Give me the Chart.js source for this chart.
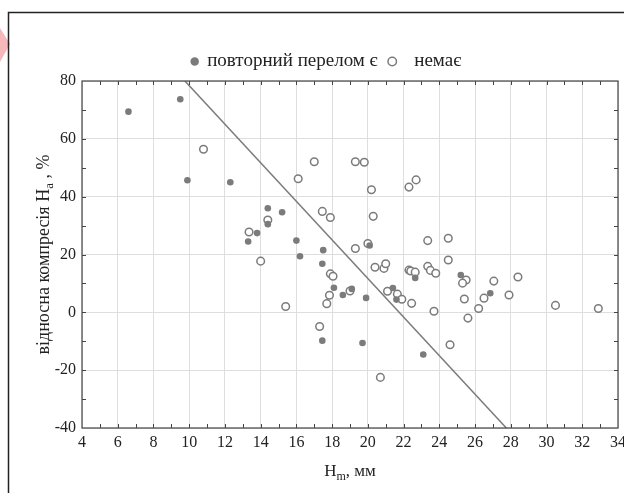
<!DOCTYPE html>
<html>
<head>
<meta charset="utf-8">
<script src="https://cdn.jsdelivr.net/npm/chart.js@4/dist/chart.umd.min.js"></script>
<style>
    html, body { margin: 0; padding: 0; background: #fff; }
    #wrap { width: 624px; height: 493px; position: relative; }
</style>
</head>
<body>
<div id="wrap"><canvas id="chart" width="624" height="493"></canvas></div>
<script>
// повторний перелом є (filled)
const fracX = [6.6, 9.5, 9.9, 12.3, 14.4, 14.4, 13.8, 13.3, 15.2, 16.0, 17.5, 16.2, 17.45,
    20.1, 22.65, 18.1, 18.6, 19.1, 19.9, 21.4, 21.6, 17.45, 19.7, 23.1, 25.2, 26.85];
const fracY = [69.4, 73.7, 45.7, 45.0, 36.0, 30.5, 27.4, 24.5, 34.6, 24.8, 21.5, 19.4, 16.8,
    23.1, 11.9, 8.5, 6.0, 8.1, 5.0, 8.4, 4.4, -9.8, -10.6, -14.6, 12.9, 6.6];

// немає (open)
const noneX = [10.8, 14.4, 13.35, 14.0, 17.0, 19.3, 19.8, 16.1, 20.2, 22.3, 22.7, 17.45, 17.9,
    20.3, 19.3, 20.0, 20.4, 20.9, 21.0, 22.3, 22.4, 22.65, 17.9, 18.05, 19.0, 17.85, 17.7,
    21.1, 21.65, 21.9, 22.45, 15.4, 17.3, 20.7, 23.35, 24.5, 24.5, 23.35, 23.5, 23.8, 25.5,
    25.3, 27.05, 28.4, 23.7, 25.4, 26.5, 27.9, 26.2, 25.6, 30.5, 32.9, 24.6];
const noneY = [56.4, 31.9, 27.8, 17.7, 52.1, 52.1, 51.9, 46.2, 42.4, 43.3, 45.8, 34.9, 32.8,
    33.2, 22.1, 23.8, 15.6, 15.2, 16.8, 14.6, 14.3, 13.9, 13.3, 12.5, 7.4, 5.9, 3.0,
    7.3, 6.3, 4.5, 3.1, 2.0, -4.9, -22.5, 24.8, 25.6, 18.1, 15.9, 14.5, 13.5, 11.2,
    10.1, 10.8, 12.2, 0.4, 4.6, 4.9, 6.0, 1.3, -2.0, 2.4, 1.3, -11.2];

// границя розділення
const lineX = [9.76, 27.75];
const lineY = [80, -40];

const seriesNames = ['повторний перелом є  ', '  немає'];
const xTitle = ['H', 'm', ', мм'];
const yTitle = ['відносна компресія H', 'a', ' , %'];

const GREY = '#7b7b7b';
const SERIF = '"Liberation Serif", "Times New Roman", serif';

/**
 * Склеює масиви x та y у точки
 * @param xs {number[]}
 * @param ys {number[]}
 * @return {object[]}
 */
function toPoints(xs, ys) {
    return xs.map((x, i) => ({x: x, y: ys[i]}));
}

/**
 * Пише текст з нижнім індексом, центр у (0, 0)
 */
function drawSubText(ctx, parts, size) {
    const big = size + 'px ' + SERIF;
    const small = Math.round(size * 0.7) + 'px ' + SERIF;
    ctx.font = big;
    const w0 = ctx.measureText(parts[0]).width;
    const w2 = ctx.measureText(parts[2]).width;
    ctx.font = small;
    const w1 = ctx.measureText(parts[1]).width;
    let x = -(w0 + w1 + w2) / 2;
    ctx.textBaseline = 'middle';
    ctx.textAlign = 'left';
    ctx.font = big;
    ctx.fillText(parts[0], x, 0);
    x += w0;
    ctx.font = small;
    ctx.fillText(parts[1], x, size * 0.3);
    x += w1;
    ctx.font = big;
    ctx.fillText(parts[2], x, 0);
}

const decor = {
    id: 'decor',
    beforeDraw(chart) {
        const ctx = chart.ctx;
        ctx.save();
        // рожевий куточок
        ctx.fillStyle = '#f5b9bb';
        ctx.beginPath();
        ctx.moveTo(0, 28);
        ctx.lineTo(10, 44);
        ctx.lineTo(0, 62);
        ctx.closePath();
        ctx.fill();
        // рамка рисунка
        ctx.strokeStyle = '#222';
        ctx.lineWidth = 1.5;
        ctx.beginPath();
        ctx.moveTo(8.5, 493);
        ctx.lineTo(8.5, 12.5);
        ctx.lineTo(624, 12.5);
        ctx.stroke();
        ctx.restore();
    },
    afterDraw(chart) {
        const ctx = chart.ctx;
        const a = chart.chartArea;
        const xs = chart.scales.x;
        const ys = chart.scales.y;
        ctx.save();
        ctx.strokeStyle = '#444';
        ctx.lineWidth = 1.2;
        ctx.strokeRect(a.left, a.top, a.right - a.left, a.bottom - a.top);
        ctx.lineWidth = 1;
        ctx.beginPath();
        for (let v = xs.min + 1; v < xs.max; v += 1) {
            const p = Math.round(xs.getPixelForValue(v)) + 0.5;
            ctx.moveTo(p, a.bottom); ctx.lineTo(p, a.bottom - 4);
            ctx.moveTo(p, a.top); ctx.lineTo(p, a.top + 4);
        }
        for (let v = ys.min + 10; v < ys.max; v += 10) {
            const p = Math.round(ys.getPixelForValue(v)) + 0.5;
            ctx.moveTo(a.left, p); ctx.lineTo(a.left + 4, p);
            ctx.moveTo(a.right, p); ctx.lineTo(a.right - 4, p);
        }
        ctx.stroke();

        ctx.fillStyle = '#222';
        ctx.translate((a.left + a.right) / 2, 472);
        drawSubText(ctx, xTitle, 17);
        ctx.setTransform(1, 0, 0, 1, 0, 0);
        ctx.translate(44, (a.top + a.bottom) / 2);
        ctx.rotate(-Math.PI / 2);
        drawSubText(ctx, yTitle, 18);
        ctx.restore();
    }
};

new Chart(document.getElementById('chart'), {
    type: 'scatter',
    data: {
        datasets: [
            {
                label: seriesNames[0],
                data: toPoints(fracX, fracY),
                backgroundColor: GREY,
                borderColor: GREY,
                borderWidth: 0,
                pointRadius: 3.3,
                pointHoverRadius: 3.3
            },
            {
                label: seriesNames[1],
                data: toPoints(noneX, noneY),
                backgroundColor: '#fff',
                borderColor: GREY,
                borderWidth: 1.5,
                pointRadius: 3.8,
                pointHoverRadius: 3.8
            },
            {
                type: 'line',
                label: 'line',
                data: toPoints(lineX, lineY),
                borderColor: GREY,
                borderWidth: 1.5,
                pointRadius: 0,
                fill: false
            }
        ]
    },
    options: {
        responsive: false,
        animation: false,
        events: [],
        layout: {padding: {left: 35, right: 6, top: 50, bottom: 35}},
        plugins: {
            tooltip: {enabled: false},
            legend: {
                display: true,
                position: 'top',
                labels: {
                    filter: (item) => item.datasetIndex < 2,
                    usePointStyle: true,
                    pointStyle: 'circle',
                    boxWidth: 6,
                    boxHeight: 6,
                    padding: 2,
                    color: '#222',
                    font: {family: SERIF, size: 19}
                }
            }
        },
        scales: {
            x: {
                type: 'linear',
                min: 4,
                max: 34,
                afterFit: (s) => { s.height = 30; s.paddingRight = 0; s.paddingLeft = 0; },
                ticks: {stepSize: 2, padding: 5, color: '#222', font: {family: SERIF, size: 16}},
                grid: {color: '#dedede', lineWidth: 1, drawTicks: false},
                border: {display: false}
            },
            y: {
                type: 'linear',
                min: -40,
                max: 80,
                afterFit: (s) => { s.width = 47; },
                ticks: {stepSize: 20, padding: 6, color: '#222', font: {family: SERIF, size: 16}},
                grid: {color: '#dedede', lineWidth: 1, drawTicks: false},
                border: {display: false}
            }
        }
    },
    plugins: [decor]
});
</script>
</body>
</html>
